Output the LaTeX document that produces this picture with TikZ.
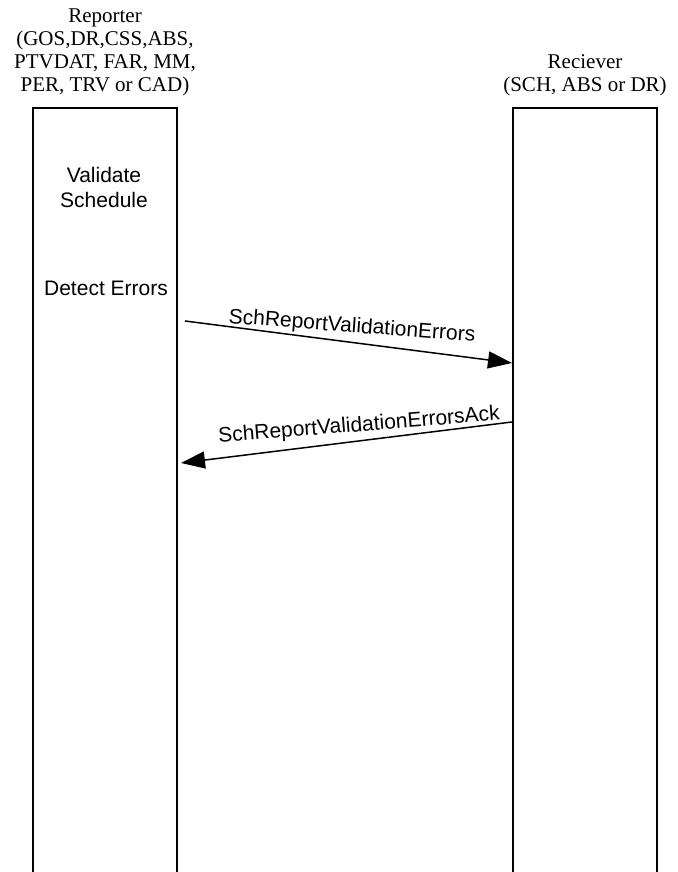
\documentclass[tikz,border=0pt]{standalone}
\usepackage{fontspec}
\setmainfont{Liberation Serif}
\newfontfamily\arialf{Liberation Sans}
\usetikzlibrary{arrows.meta}
\begin{document}
\begin{tikzpicture}[x=1pt,y=1pt,
  lifebox/.style={draw,line width=2pt,minimum width=144pt,minimum height=790pt,anchor=north,inner sep=0pt},
  headtext/.style={font=\fontsize{21}{23}\selectfont,align=center,inner sep=0pt},
  acttext/.style={font=\arialf\fontsize{21}{25}\selectfont,align=center,inner sep=0pt},
  msg/.style={line width=1.5pt,-{Triangle[length=24pt,width=17pt]}},
  msglabel/.style={font=\arialf\fontsize{21}{25}\selectfont,inner sep=0pt}]
\clip (0,0) rectangle (677,872);
\fill[white] (0,0) rectangle (677,872);
% lifeline boxes
\node[lifebox] (lbox) at (105,765) {};
\node[lifebox] (rbox) at (585,765) {};
% headers
\node[headtext] (lhead) at (105,820) {Reporter\\(GOS,DR,CSS,ABS,\\PTVDAT, FAR, MM,\\PER, TRV or CAD)};
\node[headtext] (rhead) at (585,797) {Reciever\\(SCH, ABS or DR)};
% activities
\node[acttext] (val) at (104,684) {Validate\\Schedule};
\node[acttext] (det) at (106,584) {Detect Errors};
% messages
\coordinate (m1s) at (185,551);
\coordinate (m1e) at (rbox.west |- 0,509);
\coordinate (m2s) at (rbox.west |- 0,450);
\coordinate (m2e) at (181,409);
\draw[msg] (m1s) -- (m1e);
\draw[msg] (m2s) -- (m2e);
\node[msglabel,rotate=-4.3] (l1) at (352,545) {SchReportValidationErrors};
\node[msglabel,rotate=4.6] (l2) at (359,446) {SchReportValidationErrorsAck};
\end{tikzpicture}
\end{document}
